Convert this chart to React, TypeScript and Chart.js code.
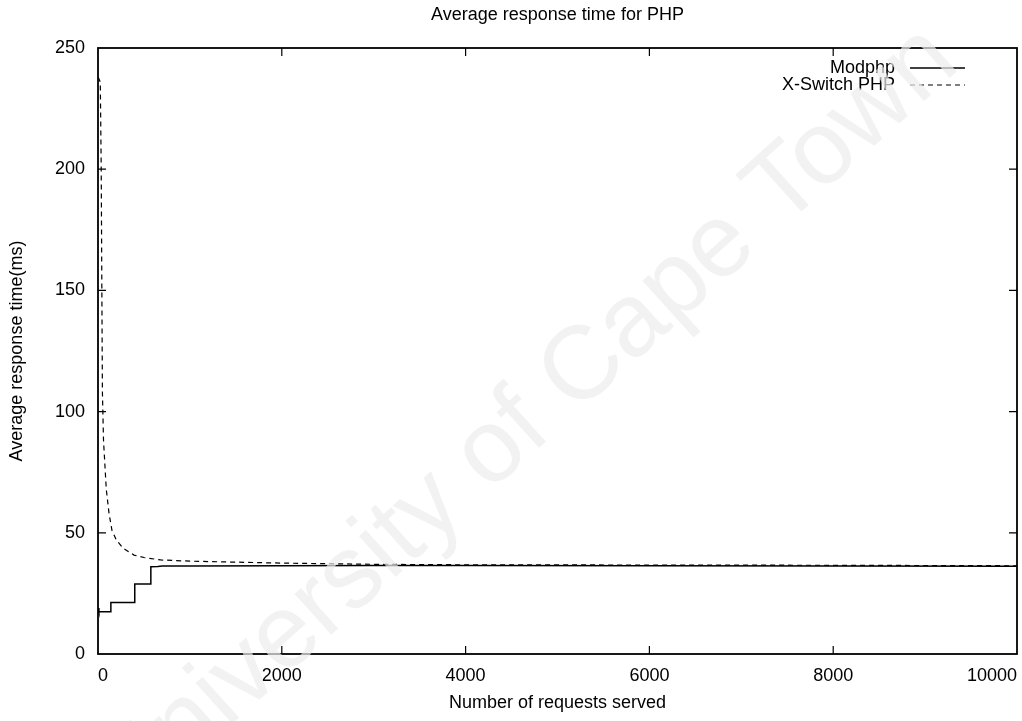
import { useEffect, useRef } from "react";
import { Chart, registerables } from "chart.js";

Chart.register(...registerables);

const chartTitle = "Average response time for PHP";
const xAxisTitle = "Number of requests served";
const yAxisTitle = "Average response time(ms)";
const seriesNames = ["Modphp", "X-Switch PHP"];
const watermarkText = "University of Cape Town";

const modphpRequests = [0, 10, 140, 140, 400, 400, 575, 575, 650, 700, 1000, 2000, 3000, 4000, 6000, 8000, 10000];
const modphpTimes = [19, 17.4, 17.4, 21.2, 21.2, 28.9, 28.9, 36.0, 36.1, 36.3, 36.3, 36.4, 36.5, 36.5, 36.4, 36.3, 36.2];

const xswitchRequests = [1, 25, 35, 42, 48, 60, 90, 120, 152, 200, 275, 392, 500, 682, 1000, 1363, 2000, 3000, 4000, 6000, 8000, 10000];
const xswitchTimes = [238, 236, 200, 150, 108, 88, 68, 58, 51, 47, 43.6, 40.8, 39.8, 38.8, 38.3, 38.0, 37.5, 37.0, 36.8, 36.7, 36.6, 36.4];

const xTicksStep = 2000;
const yTicksStep = 50;

const FONT = "'Liberation Sans', Arial, Helvetica, sans-serif";

const framePlugin = {
  id: "gnuplotFrame",
  afterDatasetsDraw(chart: any) {
    const { ctx, chartArea } = chart;
    const { left, right, top, bottom } = chartArea;
    const xs = chart.scales.x;
    const ys = chart.scales.y;
    ctx.save();
    ctx.strokeStyle = "#000";
    ctx.lineWidth = 1.2;
    const tl = 8;
    ctx.beginPath();
    xs.ticks.forEach((t: any) => {
      const px = xs.getPixelForValue(t.value);
      if (Math.abs(px - left) < 2 || Math.abs(px - right) < 2) return;
      ctx.moveTo(px, bottom);
      ctx.lineTo(px, bottom - tl);
      ctx.moveTo(px, top);
      ctx.lineTo(px, top + tl);
    });
    ys.ticks.forEach((t: any) => {
      const py = ys.getPixelForValue(t.value);
      if (Math.abs(py - top) < 2 || Math.abs(py - bottom) < 2) return;
      ctx.moveTo(left, py);
      ctx.lineTo(left + tl, py);
      ctx.moveTo(right, py);
      ctx.lineTo(right - tl, py);
    });
    ctx.stroke();
    ctx.lineWidth = 1.8;
    ctx.strokeRect(left, top, right - left, bottom - top);

    // legend
    ctx.font = `18px ${FONT}`;
    ctx.fillStyle = "#000";
    ctx.textAlign = "right";
    ctx.textBaseline = "middle";
    const textRight = right - 122;
    const lineStart = right - 107;
    const lineEnd = right - 52;
    const rows = [top + 20, top + 37];
    chart.data.datasets.forEach((ds: any, i: number) => {
      ctx.fillText(seriesNames[i], textRight, rows[i]);
      ctx.beginPath();
      ctx.lineWidth = ds.borderWidth;
      ctx.setLineDash(ds.borderDash || []);
      ctx.moveTo(lineStart, rows[i]);
      ctx.lineTo(lineEnd, rows[i]);
      ctx.stroke();
      ctx.setLineDash([]);
    });

    // title
    ctx.textAlign = "center";
    ctx.fillText(chartTitle, (left + right) / 2, 15);

    // watermark
    ctx.save();
    ctx.translate(526, 421);
    ctx.rotate((-42 * Math.PI) / 180);
    ctx.font = `104px ${FONT}`;
    ctx.fillStyle = "rgba(236,236,236,0.7)";
    ctx.textAlign = "center";
    ctx.textBaseline = "middle";
    ctx.fillText(watermarkText, 0, 0);
    ctx.restore();

    ctx.restore();
  },
};

export default function App() {
  const ref = useRef<HTMLCanvasElement | null>(null);

  useEffect(() => {
    if (!ref.current) return;
    const chart = new Chart(ref.current, {
      type: "line",
      data: {
        datasets: [
          {
            label: seriesNames[0],
            data: modphpRequests.map((x, i) => ({ x, y: modphpTimes[i] })),
            borderColor: "#000",
            borderWidth: 1.5,
            pointRadius: 0,
            tension: 0,
            fill: false,
          },
          {
            label: seriesNames[1],
            data: xswitchRequests.map((x, i) => ({ x, y: xswitchTimes[i] })),
            borderColor: "#000",
            borderWidth: 1.2,
            borderDash: [5, 4],
            pointRadius: 0,
            tension: 0,
            fill: false,
          },
        ],
      },
      options: {
        animation: false,
        responsive: false,
        layout: { padding: { left: 0, right: 5, top: 48, bottom: 0 } },
        plugins: {
          legend: { display: false },
          title: { display: false },
          tooltip: { enabled: false },
        },
        scales: {
          x: {
            type: "linear",
            min: 0,
            max: 10000,
            grid: { display: false, drawTicks: false },
            border: { display: false },
            ticks: {
              stepSize: xTicksStep,
              color: "#000",
              font: { size: 18, family: FONT },
              padding: 11,
              align: "inner",
              maxRotation: 0,
              callback: (v: any) => String(v),
            },
            title: {
              display: true,
              text: xAxisTitle,
              color: "#000",
              font: { size: 18, family: FONT },
              padding: { top: 0, bottom: 7 },
            },
            afterFit(scale: any) {
              scale.height = 67;
              scale.paddingLeft = 0;
              scale.paddingRight = 0;
            },
          },
          y: {
            type: "linear",
            min: 0,
            max: 250,
            grid: { display: false, drawTicks: false },
            border: { display: false },
            ticks: {
              stepSize: yTicksStep,
              color: "#000",
              font: { size: 18, family: FONT },
              padding: 13,
              callback: (v: any) => String(v),
            },
            title: {
              display: true,
              text: yAxisTitle,
              color: "#000",
              font: { size: 18, family: FONT },
              padding: { top: 6, bottom: 0 },
            },
            afterFit(scale: any) {
              scale.width = 98;
            },
          },
        },
      } as any,
      plugins: [framePlugin],
    });
    return () => chart.destroy();
  }, []);

  return (
    <div style={{ position: "fixed", left: 0, top: 0, width: 1022, height: 721, background: "#fff" }}>
      <canvas ref={ref} width={1022} height={721} style={{ display: "block" }} />
    </div>
  );
}
